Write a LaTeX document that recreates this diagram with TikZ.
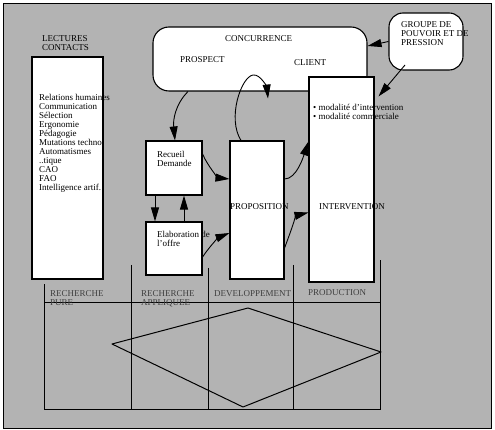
\documentclass[tikz,border=0pt]{standalone}
\usepackage{fontspec}
\setmainfont{Liberation Serif}
\usetikzlibrary{arrows.meta}
\definecolor{bg}{RGB}{179,179,179}
\begin{document}
\begin{tikzpicture}[x=1pt,y=-1pt,
  box/.style={draw,fill=white,line width=1.1pt,inner sep=0pt},
  txt/.style={inner sep=0pt,anchor=north west,align=left,font=\fontsize{9}{9}\selectfont},
  lbl/.style={txt,text=black!75},
  arr/.style={line width=0.9pt,-{Triangle[length=14pt,width=8pt]}},
  gridline/.style={line width=1pt}]
\useasboundingbox (0,0) rectangle (495,430);
\fill[bg,draw=black,line width=1pt] (3.5,4) rectangle (491,428);
% bottom grid
\draw[gridline] (44,284) -- (44,409) -- (380,409) -- (380,260);
\draw[gridline] (131,265) -- (131,409);
\draw[gridline] (208,268) -- (208,409);
\draw[gridline] (293,265) -- (293,409);
\draw[gridline] (44,302) -- (380,302);
\draw[line width=1pt,line join=round] (112,344) -- (248,308) -- (381,352) -- (243,407) -- cycle;
% boxes
\node[box,rounded corners=16pt,minimum width=214pt,minimum height=64pt] (conc) at (260,59) {};
\node[box,rounded corners=14pt,minimum width=74pt,minimum height=57pt] (grp) at (426,41.5) {};
\node[box,minimum width=71pt,minimum height=222pt] (lect) at (67.5,168) {};
\node[box,minimum width=56pt,minimum height=54pt] (rec) at (174,168) {};
\node[box,minimum width=56pt,minimum height=53pt] (elab) at (174,248.5) {};
\node[box,minimum width=54pt,minimum height=138pt] (prop) at (257,210) {};
\node[box,minimum width=65pt,minimum height=205pt] (inter) at (341.5,179.5) {};
% texts
\node[txt] (tlect) at (42,35) {LECTURES\\CONTACTS};
\node[txt] (tconc) at (225,35) {CONCURRENCE};
\node[txt] (tprosp) at (180,56) {PROSPECT};
\node[txt] (tclient) at (294,59) {CLIENT};
\node[txt] (tgrp) at (401,21) {GROUPE DE\\POUVOIR ET DE\\PRESSION};
\node[txt] (tmod) at (313,104) {\textbullet{} modalité d'intervention\\\textbullet{} modalité commerciale};
\node[txt] (tinter) at (319,203) {INTERVENTION};
\node[txt] (tprop) at (230,203) {PROPOSITION};
\node[txt] (trec) at (157,151) {Recueil\\Demande};
\node[txt] (telab) at (157,231) {Elaboration de\\l'offre};
\node[txt] (tlist) at (39,94) {Relations humaines\\Communication\\Sélection\\Ergonomie\\Pédagogie\\Mutations techno\\Automatismes\\..tique\\CAO\\FAO\\Intelligence artif.};
\node[lbl] (lpure) at (50,290) {RECHERCHE\\PURE};
\node[lbl] (lappl) at (141,290) {RECHERCHE\\APPLIQUEE};
\node[lbl] (ldev) at (214,290) {DEVELOPPEMENT};
\node[lbl] (lprod) at (308,289) {PRODUCTION};
% arrows
\draw[arr] ([xshift=-72pt]conc.south) .. controls +(-13,13) and +(-2,-20) .. ([xshift=1pt]rec.north);
\draw[arr] ([xshift=-16pt]prop.north) .. controls +(-14,-22) and +(-12,2) .. (253,75) .. controls +(8,-1) and +(-1,-10) .. ([xshift=8pt,yshift=-7pt]conc.south);
\draw[arr] ([yshift=14pt]rec.east) .. controls +(6,14) and +(-10,-1) .. ([yshift=31pt]prop.west);
\draw[arr] ([yshift=-8.5pt]elab.east) .. controls +(8,-12) and +(-10,4) .. ([yshift=-23pt]prop.west);
\draw[arr] ([xshift=-19pt]rec.south) -- ([xshift=-19pt]elab.north);
\draw[arr] ([xshift=10pt]elab.north) -- ([xshift=10pt]rec.south);
\draw[arr] ([yshift=31pt]prop.east) .. controls +(12,0) and +(-5,15) .. ([yshift=38pt]inter.west);
\draw[arr] ([yshift=-38pt]prop.east) .. controls +(6,-16) and +(-12,3) .. ([yshift=-33pt]inter.west);
\draw[arr] (grp.west) -- ([yshift=13pt]conc.east);
\draw[arr] ([xshift=-21pt,yshift=-23.5pt]grp.center) -- ([xshift=4pt,yshift=-20pt]inter.north east);
\end{tikzpicture}
\end{document}
